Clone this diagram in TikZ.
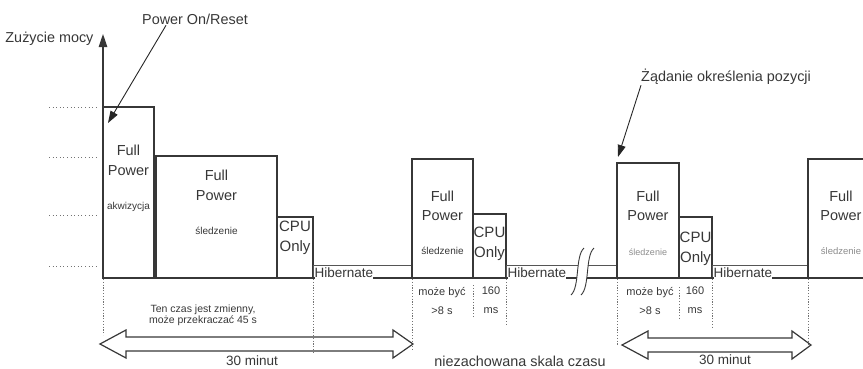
\documentclass[tikz,border=0pt]{standalone}
\usepackage{fontspec}
\setmainfont{Liberation Sans}
\usepackage{tikz}
\usetikzlibrary{arrows.meta,positioning}
\definecolor{inkgray}{RGB}{55,55,55}
\definecolor{guidegray}{RGB}{115,115,115}
\definecolor{faintgray}{RGB}{140,140,140}

\begin{document}
\begin{tikzpicture}[
    x=1pt, y=-1pt,
    every node/.style={text=inkgray, align=center},
    pwrbox/.style={rectangle, draw=inkgray, line width=1.1pt, inner sep=0pt, outer sep=0pt},
    hibbox/.style={rectangle, draw=inkgray!85, line width=0.8pt, inner sep=0pt, outer sep=0pt, minimum height=12.5pt},
    bigtxt/.style={font=\fontsize{14.5}{19.5}\selectfont},
    cputxt/.style={font=\fontsize{15}{20}\selectfont},
    labeltxt/.style={font=\fontsize{14.4}{17}\selectfont},
    smalltxt/.style={font=\fontsize{10}{12}\selectfont},
    notetxt/.style={font=\fontsize{11}{19}\selectfont},
    hibtxt/.style={font=\fontsize{13.5}{16}\selectfont, anchor=base west, fill=white, inner sep=0pt, text depth=2pt},
    levelline/.style={draw=guidegray, line width=0.7pt, dash pattern=on 1pt off 2.6pt},
    tickline/.style={draw=guidegray, line width=0.8pt, dash pattern=on 1.2pt off 1.6pt},
    ptr/.style={-{Triangle[length=12pt, width=8pt]}, line width=0.9pt, draw=black!85},
    axisarr/.style={-{Triangle[length=13pt, width=8.5pt]}, line width=1.1pt, draw=inkgray},
    spanarr/.style={draw=inkgray, line width=1.2pt, line join=miter}
]
\useasboundingbox (0,0) rectangle (863,368);

% power levels
\foreach \yy in {107,157,215,266}
    \draw[levelline] (49,\yy) -- (99,\yy);

% phases
\node[pwrbox, minimum width=51pt, minimum height=171pt, anchor=south west] (acq) at (103,278) {};
\node[pwrbox, minimum width=121pt, minimum height=122pt, right=2pt of acq.south east, anchor=south west] (trk1) {};
\node[pwrbox, minimum width=36pt, minimum height=61pt, right=0pt of trk1.south east, anchor=south west] (cpu1) {};
\node[hibbox, minimum width=99pt, right=0pt of cpu1.south east, anchor=south west] (hib1) {};
\node[pwrbox, minimum width=61pt, minimum height=119pt, right=0pt of hib1.south east, anchor=south west] (trk2) {};
\node[pwrbox, minimum width=33pt, minimum height=64pt, right=0pt of trk2.south east, anchor=south west] (cpu2) {};
\node[hibbox, minimum width=111pt, right=0pt of cpu2.south east, anchor=south west] (hib2) {};
\node[pwrbox, minimum width=62pt, minimum height=115pt, right=0pt of hib2.south east, anchor=south west] (trk3) {};
\node[pwrbox, minimum width=33pt, minimum height=61pt, right=0pt of trk3.south east, anchor=south west] (cpu3) {};
\node[hibbox, minimum width=96pt, right=0pt of cpu3.south east, anchor=south west] (hib3) {};
\coordinate (trk4) at (841,159);
\draw[draw=inkgray, line width=1.1pt] (hib3.south east) |- (863,159);

% axes
\coordinate (origin) at (103,278);
\coordinate (ytop) at (103,34);
\draw[draw=inkgray, line width=1.1pt] (origin) -- (863,278);
\draw[axisarr] (origin) -- (ytop);
\node[labeltxt, anchor=base east] (ylbl) at (97,42) {Zużycie mocy};

% break in time scale
\fill[white] (584,248) .. controls (575,256) and (580,287) .. (571,295) -- (581,295) .. controls (590,287) and (585,256) .. (594,248) -- cycle;
\draw[draw=inkgray, line width=0.9pt] (584,248) .. controls (575,256) and (580,287) .. (571,295);
\draw[draw=inkgray, line width=0.9pt] (594,248) .. controls (585,256) and (590,287) .. (581,295);

% labels inside phases
\node[bigtxt] (acqlbl) at ([yshift=-53.5pt]acq.north) {Full\\Power};
\node[smalltxt] (acqsub) at ([yshift=-100pt]acq.north) {akwizycja};
\node[bigtxt] (trk1lbl) at ([yshift=-29.5pt]trk1.north) {Full\\Power};
\node[smalltxt] (trk1sub) at ([yshift=-75pt]trk1.north) {śledzenie};
\node[cputxt] (cpu1lbl) at ([yshift=-21pt]cpu1.north) {CPU\\Only};
\node[hibtxt] (hib1lbl) at ([xshift=1.5pt, yshift=1pt]hib1.south west) {Hibernate};
\node[bigtxt] (trk2lbl) at ([yshift=-47pt]trk2.north) {Full\\Power};
\node[smalltxt] (trk2sub) at ([yshift=-92pt]trk2.north) {śledzenie};
\node[cputxt] (cpu2lbl) at ([yshift=-30pt]cpu2.north) {CPU\\Only};
\node[hibtxt] (hib2lbl) at ([xshift=1.5pt, yshift=1pt]hib2.south west) {Hibernate};
\node[bigtxt] (trk3lbl) at ([yshift=-43pt]trk3.north) {Full\\Power};
\node[smalltxt, text=faintgray, font=\fontsize{9}{11}\selectfont] (trk3sub) at ([yshift=-89pt]trk3.north) {śledzenie};
\node[cputxt] (cpu3lbl) at ([yshift=-32pt]cpu3.north) {CPU\\Only};
\node[hibtxt] (hib3lbl) at ([xshift=1.5pt, yshift=1pt]hib3.south west) {Hibernate};
\node[bigtxt] (trk4lbl) at ([yshift=-47pt]trk4) {Full\\Power};
\node[smalltxt, text=faintgray, font=\fontsize{9.5}{11}\selectfont] (trk4sub) at ([yshift=-92pt]trk4) {śledzenie};

% events
\node[labeltxt, anchor=base west, inner sep=1pt] (pwron) at (141,24) {Power On/Reset};
\coordinate (acqtip) at (108,123);
\draw[ptr] ([xshift=25pt]pwron.south west) -- (acqtip);
\node[labeltxt, anchor=base west, inner sep=1pt] (posreq) at (640,81) {Żądanie określenia pozycji};
\coordinate (trk3tip) at (618,157);
\draw[ptr] ([xshift=1pt]posreq.south west) -- (trk3tip);

% durations
\foreach \xx/\ya/\yb in {103/279/335, 313/279/354, 412/279/351, 473/285/316, 506/279/326, 617/279/346, 679/287/318, 712/279/329, 808/279/346}
    \draw[tickline] (\xx,\ya) -- (\xx,\yb);
\node[font=\fontsize{10.5}{11.5}\selectfont] (varnote) at (203,315.5) {Ten czas jest zmienny,\\może przekraczać 45 s};
\node[notetxt] (dur1) at (442,300.5) {może być\\>8 s};
\node[notetxt] (cpudur1) at (491,300.5) {160\\ms};
\node[notetxt] (dur2) at (650,300.5) {może być\\>8 s};
\node[notetxt] (cpudur2) at (695,300.5) {160\\ms};

% 30 minute spans
\draw[spanarr] (100,344) -- (126,330) -- (126,337) -- (393,337) -- (393,330) -- (413,344) -- (393,358) -- (393,351) -- (126,351) -- (126,358) -- cycle;
\draw[spanarr] (622,345) -- (648,331) -- (648,338) -- (792,338) -- (792,331) -- (811,345) -- (792,359) -- (792,352) -- (648,352) -- (648,359) -- cycle;
\node[font=\fontsize{13.5}{16}\selectfont, inner sep=1pt] (span1lbl) at (252,361) {30 minut};
\node[font=\fontsize{13.5}{16}\selectfont, inner sep=1pt] (span2lbl) at (725,360) {30 minut};
\node[labeltxt, inner sep=1pt] (scalelbl) at (520,361.5) {niezachowana skala czasu};

\end{tikzpicture}
\end{document}
